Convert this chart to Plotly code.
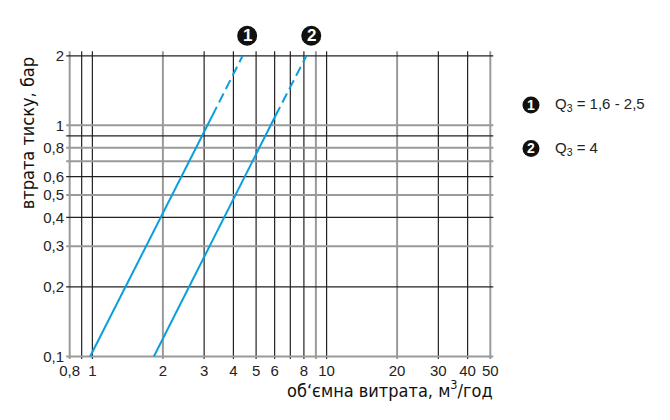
import numpy as np
import plotly.graph_objects as go

# gridlines (log-log chart), split by how they are drawn in the original
x_grid_dark = [0.9, 1, 3, 4, 5, 6, 7, 8, 10, 30, 40]
x_grid_grey = [0.8, 2, 9, 20, 50]
y_grid_dark = [0.2, 0.4, 0.6, 0.9, 2]
y_grid_grey = [0.1, 0.3, 0.5, 0.7, 0.8, 1]

x_ticks = [0.8, 1, 2, 3, 4, 5, 6, 8, 10, 20, 30, 40, 50]
x_ticktext = ["0,8", "1", "2", "3", "4", "5", "6", "8", "10", "20", "30", "40", "50"]
y_ticks = [0.1, 0.2, 0.3, 0.4, 0.5, 0.6, 0.8, 1, 2]
y_ticktext = ["0,1", "0,2", "0,3", "0,4", "0,5", "0,6", "0,8", "1", "2"]

# curve 1 (Q3 = 1,6 - 2,5)
c1_solid_x = [0.978, 3.25]
c1_solid_y = [0.1, 1.1]
c1_dash_x = [3.25, 4.38]
c1_dash_y = [1.1, 2.0]
# curve 2 (Q3 = 4)
c2_solid_x = [1.83, 6.05]
c2_solid_y = [0.1, 1.1]
c2_dash_x = [6.05, 8.2]
c2_dash_y = [1.1, 2.0]

# numbered labels above the curve ends, and the key on the right
numbers = ["1", "2"]
label_x = [4.58, 8.6]
legend_text = ["Q<sub>3</sub> = 1,6 - 2,5", "Q<sub>3</sub> = 4"]

X_MIN, X_MAX = 0.8, 50
Y_MIN, Y_MAX = 0.1, 2
XR = [np.log10(X_MIN) - 0.02, np.log10(X_MAX) + 0.02]
YR = [np.log10(Y_MIN) - 0.015, np.log10(Y_MAX) + 0.025]
BLUE = "#0a9fdc"
DARK = "#222222"
GREY = "#9a9a9a"
FONT = "Liberation Sans, Arial, sans-serif"
TITLE_FONT = "DejaVu Sans Condensed, Liberation Sans Narrow, DejaVu Sans, sans-serif"


def vlines(xs, y0, y1):
    px, py = [], []
    for v in xs:
        px += [v, v, None]
        py += [y0, y1, None]
    return px, py


def hlines(ys, x0, x1):
    px, py = [], []
    for v in ys:
        px += [x0, x1, None]
        py += [v, v, None]
    return px, py


def xpaper(v):
    return (np.log10(v) - XR[0]) / (XR[1] - XR[0])


# small overshoot of the grid beyond the frame
y_lo = Y_MIN * 10 ** (-2.5 / 231)
y_hi = Y_MAX * 10 ** (4.5 / 231)
x_lo = X_MIN * 10 ** (-3.5 / 234)
x_hi = X_MAX * 10 ** (3 / 234)

fig = go.Figure()

for xs, col, w in [(x_grid_grey, GREY, 2), (x_grid_dark, DARK, 1.2)]:
    gx, gy = vlines(xs, y_lo, y_hi)
    fig.add_trace(go.Scatter(x=gx, y=gy, mode="lines", line=dict(color=col, width=w),
                             hoverinfo="skip", showlegend=False))
for ys, col, w in [(y_grid_grey, GREY, 2), (y_grid_dark, DARK, 1.2)]:
    gx, gy = hlines(ys, x_lo, x_hi)
    fig.add_trace(go.Scatter(x=gx, y=gy, mode="lines", line=dict(color=col, width=w),
                             hoverinfo="skip", showlegend=False))

for sx, sy, dx, dy in [(c1_solid_x, c1_solid_y, c1_dash_x, c1_dash_y),
                       (c2_solid_x, c2_solid_y, c2_dash_x, c2_dash_y)]:
    fig.add_trace(go.Scatter(x=sx, y=sy, mode="lines", line=dict(color=BLUE, width=2),
                             showlegend=False))
    fig.add_trace(go.Scatter(x=dx, y=dy, mode="lines",
                             line=dict(color=BLUE, width=2, dash="10px,5px"),
                             showlegend=False))


def badge(px_, py_, r, num, size):
    fig.add_shape(type="circle", xref="paper", yref="paper", xsizemode="pixel",
                  ysizemode="pixel", xanchor=px_, yanchor=py_, x0=-r, x1=r, y0=-r, y1=r,
                  fillcolor="#111111", line=dict(width=0))
    fig.add_annotation(x=px_, y=py_, xref="paper", yref="paper", text="<b>%s</b>" % num,
                       showarrow=False, xanchor="center", yanchor="middle",
                       font=dict(family=FONT, size=size, color="white"))


for lx, num in zip(label_x, numbers):
    badge(xpaper(lx), 1.046, 10, num, 17)

for i, (num, t) in enumerate(zip(numbers, legend_text)):
    py_ = 0.8226 - i * 0.14
    badge(1.0837, py_, 8.5, num, 14)
    fig.add_annotation(x=1.135, y=py_, xref="paper", yref="paper", text=t,
                       showarrow=False, xanchor="left", yanchor="middle",
                       font=dict(family=FONT, size=15, color=DARK))

fig.add_annotation(x=-0.087, y=0.73, xref="paper", yref="paper", text="втрата тиску, бар",
                   textangle=-90, showarrow=False, xanchor="center", yanchor="middle",
                   font=dict(family=TITLE_FONT, size=18, color="#111111"))
fig.add_annotation(x=1.0, y=-0.095, xref="paper", yref="paper",
                   text="об‘ємна витрата, м<sup>3</sup>/год",
                   showarrow=False, xanchor="right", yanchor="middle",
                   font=dict(family=TITLE_FONT, size=18, color="#111111"))

fig.update_xaxes(type="log", range=XR, automargin=False,
                 showgrid=False, zeroline=False, showline=False,
                 tickvals=x_ticks, ticktext=x_ticktext, ticks="",
                 tickfont=dict(family=FONT, size=15, color=DARK))
fig.update_yaxes(type="log", range=YR, automargin=False,
                 showgrid=False, zeroline=False, showline=False,
                 tickvals=y_ticks, ticktext=y_ticktext, ticks="",
                 tickfont=dict(family=FONT, size=15, color=DARK))

# page body adds 8px; plot area kept at the reference position
fig.update_layout(width=654, height=404, margin=dict(l=57, r=167, t=42, b=52),
                  plot_bgcolor="white", paper_bgcolor="white", showlegend=False)

fig.write_html("out.html")
